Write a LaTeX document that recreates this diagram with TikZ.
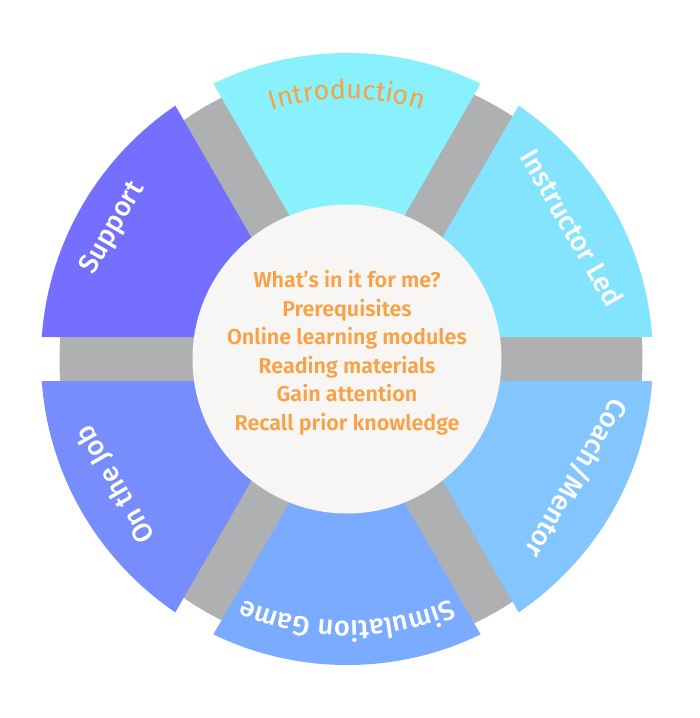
\documentclass[tikz,border=0pt]{standalone}
\usepackage{fontspec}
\setmainfont{Fira Sans}
\newfontfamily\semib{Fira Sans SemiBold}
\newfontfamily\medf{Fira Sans Medium}
\usetikzlibrary{calc,decorations.text}
\definecolor{cIntro}{HTML}{88F1FC}
\definecolor{cInstr}{HTML}{84E3FD}
\definecolor{cCoach}{HTML}{83C5FE}
\definecolor{cSim}{HTML}{7BABFE}
\definecolor{cJob}{HTML}{778CFD}
\definecolor{cSup}{HTML}{746FFE}
\definecolor{cGrey}{HTML}{AFB0B2}
\definecolor{cCenter}{HTML}{F7F6F4}
\definecolor{cOrange}{HTML}{F8A145}
\tikzset{
  seglabel/.style={text=white, font=\medf\fontsize{27.5}{27.5}\selectfont, inner sep=0pt},
  ctrtext/.style={text=cOrange, font=\semib\fontsize{21.5}{28.5}\selectfont, align=center, inner sep=0pt}
}
\begin{document}
\begin{tikzpicture}[x=1pt,y=1pt]
\useasboundingbox (-347,-359) rectangle (353,359);
\fill[cGrey] (4,0) circle[radius=291.5];
\foreach \a/\c in {90/cIntro, 30/cInstr, -30/cCoach, -90/cSim, -150/cJob, 150/cSup} {
  \begin{scope}
    \clip (\a:44) -- ($(\a:44)+(\a+30:500)$) -- ($(\a:44)+(\a-30:500)$) -- cycle;
    \fill[\c] (0,0) circle[radius=306];
  \end{scope}
}
\fill[cCenter] (0,0) circle[radius=154.5];
\node[ctrtext] (ctr) at (0,6.5) {What’s in it for me?\\Prerequisites\\Online learning modules\\Reading materials\\Gain attention\\Recall prior knowledge};
\node[seglabel, rotate=60] (sup) at (150.8:268) {Support};
\node[seglabel, rotate=-60] (ins) at (30.2:261) {Instructor Led};
\node[seglabel, rotate=-120] (coa) at (-27.5:259) {Coach/Mentor};
\node[seglabel, rotate=120] (job) at (-151.6:263) {On the Job};
\path[decorate, decoration={text along path, text align=center, text={|\fontsize{27}{27}\selectfont\color{cOrange}|Introduction}}] (125:260) arc[start angle=125, end angle=55, radius=260];
\path[decorate, decoration={text along path, text align=center, text={|\medf\fontsize{27.5}{27.5}\selectfont\color{white}|Simulation Game}}] (-45:262) arc[start angle=-45, end angle=-135, radius=262];
\end{tikzpicture}
\end{document}
